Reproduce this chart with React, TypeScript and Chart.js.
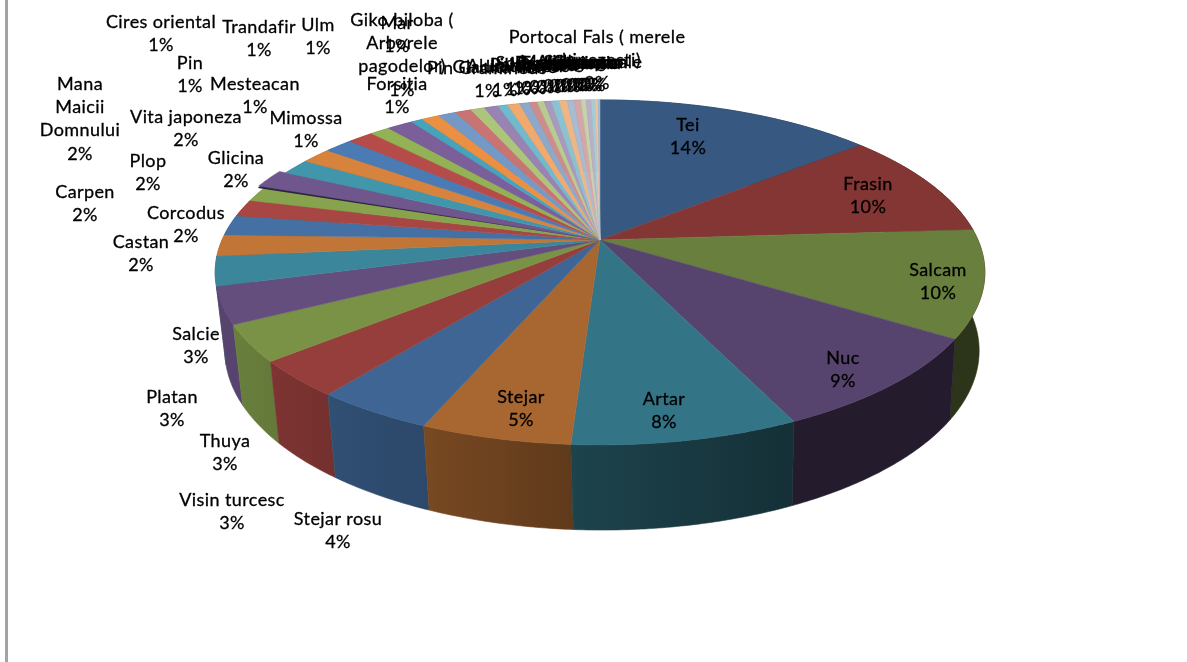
import React, { useEffect, useRef } from "react";
import { Chart, registerables } from "chart.js";

Chart.register(...registerables);

const species: string[] = [
  "Tei", "Frasin", "Salcam", "Nuc", "Artar", "Stejar", "Stejar rosu", "Visin turcesc", "Thuya", "Platan", "Salcie",
  "Castan", "Corcodus", "Carpen", "Plop", "Mana Maicii Domnului", "Glicina", "Vita japoneza", "Mimossa", "Mesteacan",
  "Pin", "Cires oriental", "Trandafir", "Ulm", "Giko biloba ( Arborele pagodelor)", "Mar", "Forsitia",
  "Pin Gramineus", "Gladita mare", "Alun turcesc", "Liliac alb", "Paltin rosu", "Jugastru", "Dud alb", "Sorb de munte",
  "Tuia pitica", "Brad argintiu", "Molid comun", "Arin negru", "Cenusar", "Ienupar", "Salba moale",
  "Portocal Fals ( merele chinezesti)",
];

const shares: number[] = [
  14, 10, 10, 9, 8, 5.3, 4.2, 3.4, 3.4, 3.45, 2.75,
  2, 1.9, 1.6, 1.5, 1.7, 1.5, 1.5, 1.45, 1.3,
  1, 1.3, 0.6, 0.9, 0.9, 0.8, 0.7,
  0.7, 0.5, 0.6, 0.5, 0.4, 0.35, 0.35, 0.4, 0.4, 0.35, 0.35, 0.25,
  0.25, 0.2, 0.15, 0.1,
];

// Layout only: wrapped lines and centre of the first line of each data label.
const wrapped: Record<string, string[]> = {
  "Mana Maicii Domnului": ["Mana", "Maicii", "Domnului"],
  "Giko biloba ( Arborele pagodelor)": ["Giko biloba (", "Arborele", "pagodelor)"],
  "Portocal Fals ( merele chinezesti)": ["Portocal Fals ( merele", "chinezesti)"],
};
const labelCentres: [number, number][] = [
  [688, 125], [868, 184], [938, 270], [843, 358], [664, 399], [521, 397], [338, 519], [232, 500], [225, 441], [172, 397], [196, 334],
  [141, 242], [186, 213], [85, 192], [148, 161], [80, 84], [236, 158], [186, 117], [306, 118], [255, 84],
  [190, 63], [161, 22], [259, 27], [318, 25], [402, 20], [397, 23], [397, 84],
  [487, 68], [505, 67], [518, 66], [526, 65], [534, 65], [542, 64], [549, 64], [556, 63], [562, 63], [568, 63], [574, 62], [580, 62],
  [586, 62], [590, 62], [593, 62], [597, 37],
];

const baseColours: number[][] = [
  [79, 129, 189], [192, 80, 77], [155, 187, 89], [128, 100, 162], [75, 172, 198], [247, 150, 70],
];
const shadeTiers: number[] = [0.68, 0.78, 0.87, 0.95];
const tintTiers: number[] = [0.25, 0.42, 0.6];

function faceColour(i: number): number[] {
  const base = baseColours[i % 6];
  const tier = Math.floor(i / 6);
  if (tier < shadeTiers.length) return base.map((c) => c * shadeTiers[tier]);
  const t = tintTiers[Math.min(tier - shadeTiers.length, tintTiers.length - 1)];
  return base.map((c) => c + (225 - c) * t);
}
const css = (c: number[]) => `rgb(${c.map((v) => Math.round(v)).join(",")})`;

// Wall darkness falls off from left to right.
const wallStops: [number, number][] = [[240, 0.87], [300, 0.8], [380, 0.75], [500, 0.66], [680, 0.44], [800, 0.41], [985, 0.42]];
function wallFactor(x: number): number {
  if (x <= wallStops[0][0]) return wallStops[0][1];
  for (let i = 1; i < wallStops.length; i++) {
    const [x1, f1] = wallStops[i];
    const [x0, f0] = wallStops[i - 1];
    if (x <= x1) return f0 + ((f1 - f0) * (x - x0)) / (x1 - x0);
  }
  return wallStops[wallStops.length - 1][1];
}

// Perspective view of the pie's disc.
const CX = 600, APEX_Y = 240, RX = 378, RY = 166.4, K = 0.188;
const WALL_CX = 602, WALL_CY = 317, WALL_RY = 173, WALL_SCALE = 0.98;
const top = (a: number, r = 1): [number, number] => {
  const u = Math.cos(a) * r, v = Math.sin(a) * r, d = 1 - K * v;
  return [CX + (RX * u) / d, APEX_Y + (RY * v) / d];
};
const bottom = (a: number): [number, number] => {
  const u = Math.cos(a), v = Math.sin(a), d = 1 - K * v;
  return [WALL_CX + (WALL_SCALE * RX * u) / d, WALL_CY + (WALL_RY * v) / d];
};
const RAISED = 15; // the slightly pulled-out slice

const pie3d = {
  id: "pie3d",
  beforeDatasetDraw(chart: any) {
    const ctx: CanvasRenderingContext2D = chart.ctx;
    const arcs = chart.getDatasetMeta(0).data as any[];
    const angles = (a: any) => {
      const n = Math.max(2, Math.ceil((a.endAngle - a.startAngle) / 0.01));
      return Array.from({ length: n + 1 }, (_, k) => a.startAngle + ((a.endAngle - a.startAngle) * k) / n);
    };
    const order = arcs.map((_, i) => i).sort(
      (p, q) => Math.sin((arcs[p].startAngle + arcs[p].endAngle) / 2) - Math.sin((arcs[q].startAngle + arcs[q].endAngle) / 2),
    );
    ctx.save();
    for (const i of order) {
      const pts = angles(arcs[i]);
      const c = faceColour(i);
      const up = pts.map((a) => top(a));
      const low = pts.map((a) => bottom(a)).reverse();
      const x0 = up[0][0], x1 = up[up.length - 1][0];
      const g = ctx.createLinearGradient(x0, 0, x0 === x1 ? x1 + 1 : x1, 0);
      g.addColorStop(0, css(c.map((v) => v * wallFactor(x0))));
      g.addColorStop(1, css(c.map((v) => v * wallFactor(x1))));
      ctx.beginPath();
      [...up, ...low].forEach(([x, y], k) => (k ? ctx.lineTo(x, y) : ctx.moveTo(x, y)));
      ctx.closePath();
      ctx.fillStyle = g;
      ctx.strokeStyle = g;
      ctx.lineWidth = 0.6;
      ctx.fill();
      ctx.stroke();
    }
    arcs.forEach((arc, i) => {
      const r = i === RAISED ? 1.022 : 1;
      const pts = angles(arc);
      if (i === RAISED) {
        ctx.beginPath();
        ctx.moveTo(CX, APEX_Y);
        pts.forEach((a) => { const [x, y] = top(a, r); ctx.lineTo(x - 1, y + 2); });
        ctx.closePath();
        ctx.fillStyle = "#2b2340";
        ctx.fill();
      }
      ctx.beginPath();
      ctx.moveTo(CX, APEX_Y);
      pts.forEach((a) => { const [x, y] = top(a, r); ctx.lineTo(x, y); });
      ctx.closePath();
      ctx.fillStyle = css(faceColour(i));
      ctx.strokeStyle = css(faceColour(i));
      ctx.lineWidth = 0.5;
      ctx.fill();
      ctx.stroke();
    });
    ctx.restore();
    return false;
  },
  afterDatasetsDraw(chart: any) {
    const ctx: CanvasRenderingContext2D = chart.ctx;
    const total = shares.reduce((s, v) => s + v, 0);
    const LINE = 23.3;
    ctx.save();
    ctx.font = '18px Lato, "Open Sans", sans-serif';
    (ctx as any).letterSpacing = "0.4px";
    ctx.textAlign = "center";
    ctx.textBaseline = "middle";
    ctx.fillStyle = "#000";
    ctx.strokeStyle = "#000";
    ctx.lineWidth = 0.3;
    species.forEach((name, i) => {
      const [x, y] = labelCentres[i];
      const lines = [...(wrapped[name] ?? [name]), `${Math.round((shares[i] / total) * 100)}%`];
      lines.forEach((line, k) => {
        ctx.fillText(line, x, y + k * LINE);
        ctx.strokeText(line, x, y + k * LINE);
      });
    });
    ctx.restore();
  },
};

export default function App() {
  const ref = useRef<HTMLCanvasElement>(null);
  useEffect(() => {
    document.body.style.margin = "0";
    document.body.style.overflow = "hidden";
    const chart = new Chart(ref.current!, {
      type: "pie",
      data: {
        labels: species,
        datasets: [{ data: shares, backgroundColor: species.map((_, i) => css(faceColour(i))), borderWidth: 0 }],
      },
      options: {
        animation: false,
        responsive: false,
        devicePixelRatio: 1,
        plugins: { legend: { display: false }, tooltip: { enabled: false } },
      },
      plugins: [pie3d],
    });
    return () => chart.destroy();
  }, []);
  return (
    <div style={{ position: "relative", width: 1187, height: 662, background: "#fff", overflow: "hidden" }}>
      <div style={{ position: "absolute", left: 5, top: 0, width: 3, height: 662, background: "#a3a3a3" }} />
      <canvas
        ref={ref}
        width={1187}
        height={662}
        style={{ position: "absolute", left: 0, top: 0, width: 1187, height: 662, filter: "blur(0.6px)" }}
      />
    </div>
  );
}
